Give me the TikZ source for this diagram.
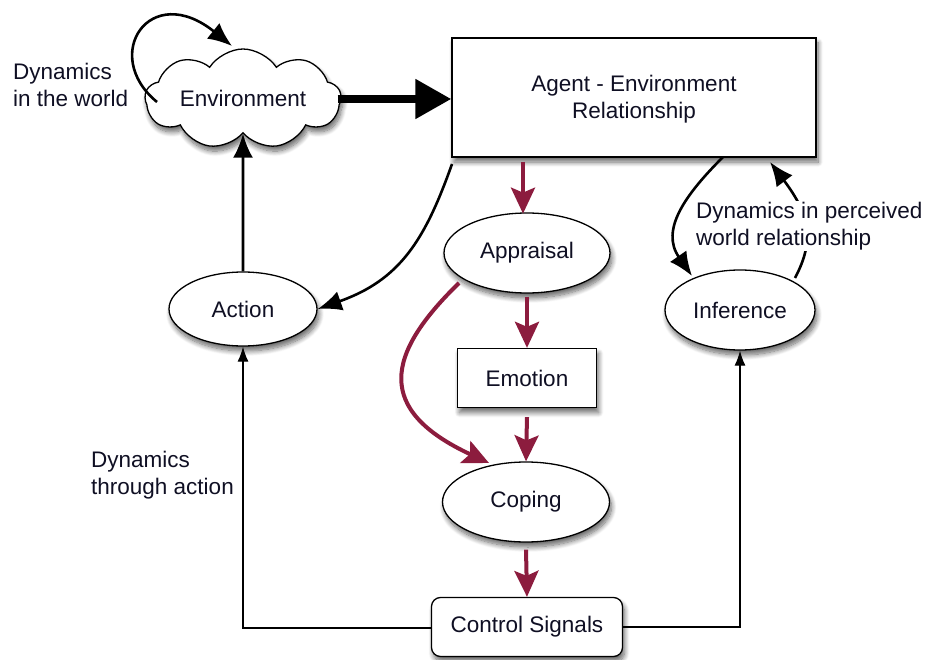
\documentclass[tikz,border=0pt]{standalone}
\usepackage{fontspec}
\setmainfont{Liberation Sans}
\usetikzlibrary{shapes.geometric,shapes.symbols,arrows.meta,shadows.blur}
\definecolor{crim}{RGB}{140,28,62}
\definecolor{txt}{RGB}{15,15,35}
\begin{document}
\begin{tikzpicture}[x=1pt,y=-1pt,
  font=\fontsize{22.5}{27}\selectfont,
  shad/.style={blur shadow={shadow xshift=2pt,shadow yshift=-5pt,shadow opacity=60,shadow blur radius=5pt,shadow blur steps=10}},
  ell/.style={ellipse,draw,line width=1.3pt,fill=white,shad,inner sep=0pt},
  box/.style={rectangle,draw,line width=1.3pt,fill=white,shad,inner sep=0pt},
  blk/.style={line width=2.6pt,-{Latex[length=24pt,width=20pt]}},
  crimarrow/.style={draw=crim,line width=4pt,-{Stealth[length=26pt,width=24pt,inset=5pt]}},
  thinline/.style={line width=1.3pt,-{Latex[length=15pt,width=11pt]}},
  lbl/.style={align=left,inner sep=1pt,text=txt}
]
\useasboundingbox (0,0) rectangle (931,660);

% nodes
\node[cloud,cloud puffs=9,cloud puff arc=115,aspect=2.1,draw,line width=1.3pt,fill=white,shad,
      minimum width=196pt,minimum height=100pt,inner sep=0pt] (env) at (243,99) {};
\node[text=txt] (envt) at (243,98) {Environment};
\node[box,minimum width=364pt,minimum height=119pt] (aer) at (634,97.5) {};
\node[align=center,text=txt] (aert) at (634,99) {Agent - Environment\\Relationship};
\node[ell,minimum width=166pt,minimum height=80pt,text=txt] (app) at (527,253) {Appraisal};
\node[ell,minimum width=148pt,minimum height=74pt,text=txt] (act) at (243,309) {Action};
\node[ell,minimum width=150pt,minimum height=80pt,text=txt] (inf) at (740,310) {Inference};
\node[box,minimum width=139pt,minimum height=59pt,text=txt] (emo) at (527,378) {Emotion};
\node[ell,minimum width=167pt,minimum height=80pt,text=txt] (cop) at (526,502) {Coping};
\node[box,rounded corners=9pt,minimum width=191pt,minimum height=59pt,text=txt] (ctl) at (527,627) {Control Signals};

% labels
\node[lbl,anchor=west] (l1) at (12,85) {Dynamics\\in the world};
\node[lbl,anchor=west] (l3) at (90,475) {Dynamics\\through action};

% helper coordinates
\coordinate (envL) at (157,102);
\coordinate (envT) at (232,46);
\coordinate (aerBL) at (452,164);
\coordinate (aerB1) at (723,157);
\coordinate (aerB2) at (770,162);
\coordinate (infT1) at (692,276);
\coordinate (infT2) at (795,278);
\coordinate (appL) at (459,283);
\coordinate (copT) at (489,463);
\coordinate (ctlL) at (432,628);
\coordinate (ctlR) at (622,627);

% connectors
\draw[blk] (envL) .. controls (100,55) and (150,-20) .. (envT);
\draw[line width=8pt,-{Triangle[length=36pt,width=38pt]}] (env.east) ++(-4,0) -- (aer.west |- env.east);
\draw[blk] (act.north) -- (env.south);
\draw[blk] (aerBL) .. controls (425,240) and (400,280) .. (act.east);
\draw[blk] (aerB1) .. controls (685,195) and (660,230) .. (infT1);
\draw[blk] (infT2) .. controls (815,240) and (810,215) .. (aerB2);
\node[lbl,anchor=west,fill=white] (l2) at (695,226) {Dynamics in perceived\\world relationship};

\draw[crimarrow] (app.north |- aer.south) ++(-4,4) -- ++(0,52);
\draw[crimarrow] (app.south) ++(0,3) -- (emo.north);
\draw[crimarrow] (emo.south) ++(0,9) -- (cop.north);
\draw[crimarrow] (cop.south) ++(0,7) -- (ctl.north);
\draw[crimarrow] (appL) .. controls (385,355) and (375,410) .. (copT);

\draw[thinline] (ctlL) -| (act.south);
\draw[thinline] (ctlR) -| (inf.south);
\end{tikzpicture}
\end{document}
